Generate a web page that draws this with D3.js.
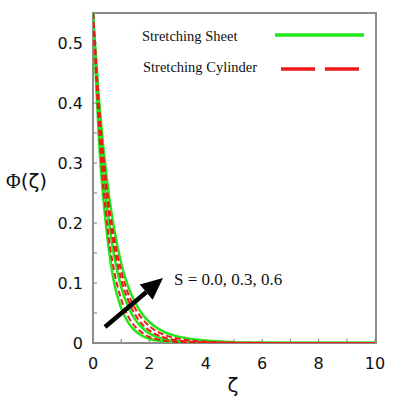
<!DOCTYPE html>
<html><head><meta charset="utf-8">
<script src="https://cdn.jsdelivr.net/npm/d3@7"></script>
<style>body{margin:0;background:#fff}</style>
</head><body>
<svg id="c" width="396" height="406"></svg>
<script>
const zeta = [0, 0.25, 0.5, 0.75, 1, 1.25, 1.5, 1.75, 2, 2.5, 3, 3.5, 4, 5, 6, 7, 8, 9, 10];
const sheetS00 = [0.55, 0.31, 0.18, 0.10, 0.058, 0.034, 0.020, 0.012, 0.007, 0.003, 0.0012, 0.0005, 0.0002, 0, 0, 0, 0, 0, 0];
const sheetS03 = [0.55, 0.35, 0.225, 0.145, 0.093, 0.060, 0.039, 0.025, 0.016, 0.0068, 0.0029, 0.0012, 0.0005, 0.0001, 0, 0, 0, 0, 0];
const sheetS06 = [0.55, 0.385, 0.27, 0.19, 0.133, 0.094, 0.067, 0.048, 0.035, 0.019, 0.011, 0.0065, 0.004, 0.0013, 0.0004, 0.0001, 0, 0, 0];
const cylS00 = [0.55, 0.33, 0.198, 0.12, 0.073, 0.044, 0.027, 0.017, 0.010, 0.0042, 0.0017, 0.0007, 0.0003, 0, 0, 0, 0, 0, 0];
const cylS03 = [0.55, 0.36, 0.24, 0.16, 0.106, 0.071, 0.047, 0.031, 0.021, 0.0095, 0.0042, 0.0019, 0.0008, 0.0002, 0, 0, 0, 0, 0];
const cylS06 = [0.55, 0.375, 0.255, 0.175, 0.12, 0.082, 0.057, 0.040, 0.028, 0.014, 0.0075, 0.004, 0.0022, 0.0007, 0.0002, 0, 0, 0, 0];
const xTicks = [0, 2, 4, 6, 8, 10];
const yTicks = [0, 0.1, 0.2, 0.3, 0.4, 0.5];
const legendLabels = ["Stretching Sheet", "Stretching Cylinder"];
const annotation = "S = 0.0, 0.3, 0.6";

const svg = d3.select("#c");
const x = d3.scaleLinear().domain([0, 10]).range([93, 375]);
const y = d3.scaleLinear().domain([0, 0.55]).range([343, 13]);
const frameCol = "#8c8c8c";

// frame
svg.append("rect").attr("x", 93).attr("y", 13).attr("width", 283).attr("height", 330)
  .attr("fill", "none").attr("stroke", frameCol).attr("stroke-width", 2);

// minor/major inward ticks
const gx = svg.append("g");
gx.selectAll("line").data(d3.range(0, 11, 1)).join("line")
  .attr("x1", d => x(d)).attr("x2", d => x(d)).attr("y1", 343).attr("y2", 339)
  .attr("stroke", frameCol).attr("stroke-width", 1.2);
const gy = svg.append("g");
gy.selectAll("line").data(d3.range(0, 0.551, 0.05)).join("line")
  .attr("x1", 93).attr("x2", 97).attr("y1", d => y(d)).attr("y2", d => y(d))
  .attr("stroke", frameCol).attr("stroke-width", 1.2);

// tick labels
svg.append("g").selectAll("text").data(xTicks).join("text")
  .attr("x", d => x(d)).attr("y", 369).attr("text-anchor", "middle")
  .attr("font-family", "DejaVu Sans").attr("font-size", 16).attr("fill", "#111")
  .text(d => d);
svg.append("g").selectAll("text").data(yTicks).join("text")
  .attr("x", 83).attr("y", d => y(d) + 6).attr("text-anchor", "end")
  .attr("font-family", "DejaVu Sans").attr("font-size", 16).attr("fill", "#111")
  .text(d => d === 0 ? "0" : d3.format(".1f")(d));

// axis titles
svg.append("text").attr("x", 233).attr("y", 392).attr("text-anchor", "middle")
  .attr("font-family", "DejaVu Sans").attr("font-size", 20).attr("fill", "#111").text("ζ");
const yt = svg.append("text").attr("x", 6).attr("y", 188)
  .attr("font-size", 20).attr("fill", "#111");
yt.append("tspan").attr("font-family", "Liberation Serif").text("Φ");
yt.append("tspan").attr("font-family", "DejaVu Sans").text("(ζ)");

// curves
const line = d3.line().x((d, i) => x(zeta[i])).y(d => y(d)).curve(d3.curveMonotoneX);
const clip = svg.append("clipPath").attr("id", "cp").append("rect")
  .attr("x", 93).attr("y", 12).attr("width", 283).attr("height", 331);
const curves = svg.append("g").attr("clip-path", "url(#cp)");
[sheetS00, sheetS03, sheetS06].forEach(s => {
  curves.append("path").attr("d", line(s)).attr("fill", "none")
    .attr("stroke", "#22e61c").attr("stroke-width", 2.5);
});
[cylS00, cylS03, cylS06].forEach(s => {
  curves.append("path").attr("d", line(s)).attr("fill", "none")
    .attr("stroke", "#ee1a1a").attr("stroke-width", 2).attr("stroke-dasharray", "6,3");
});

// legend
svg.append("text").attr("x", 142).attr("y", 41).attr("font-family", "Liberation Serif")
  .attr("font-size", 14.5).attr("fill", "#111").text(legendLabels[0]);
svg.append("text").attr("x", 143).attr("y", 72).attr("font-family", "Liberation Serif")
  .attr("font-size", 14.5).attr("fill", "#111").text(legendLabels[1]);
svg.append("line").attr("x1", 275).attr("x2", 364).attr("y1", 35).attr("y2", 35)
  .attr("stroke", "#22e61c").attr("stroke-width", 3.5);
svg.append("line").attr("x1", 281).attr("x2", 359).attr("y1", 69).attr("y2", 69)
  .attr("stroke", "#ee1a1a").attr("stroke-width", 3.5).attr("stroke-dasharray", "34,10");

// annotation + arrow
svg.append("text").attr("x", 174).attr("y", 285).attr("font-family", "Liberation Serif")
  .attr("font-size", 17).attr("fill", "#111").text(annotation);
const ax0 = 105, ay0 = 327, ax1 = 163, ay1 = 278;
const ang = Math.atan2(ay1 - ay0, ax1 - ax0);
const hl = 22, hw = 10;
const bx = ax1 - hl * Math.cos(ang), by = ay1 - hl * Math.sin(ang);
svg.append("line").attr("x1", ax0).attr("y1", ay0).attr("x2", bx).attr("y2", by)
  .attr("stroke", "#000").attr("stroke-width", 4.5);
svg.append("path").attr("d", `M${ax1},${ay1} L${bx + hw * Math.sin(ang)},${by - hw * Math.cos(ang)} L${bx - hw * Math.sin(ang)},${by + hw * Math.cos(ang)} Z`)
  .attr("fill", "#000");
</script>
</body></html>
